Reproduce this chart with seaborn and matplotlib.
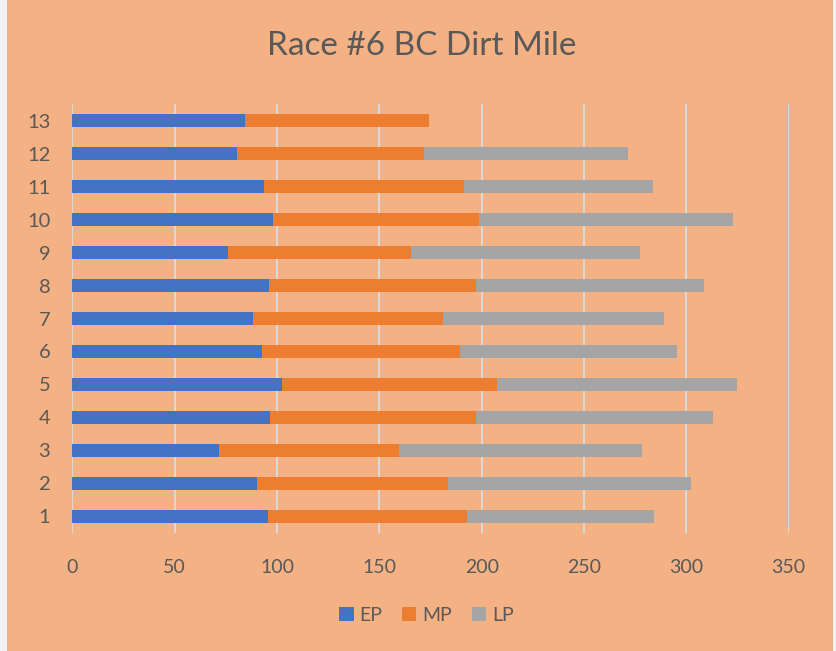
import numpy as np
import pandas as pd
import matplotlib
matplotlib.use("Agg")
import matplotlib.pyplot as plt
import seaborn as sns
from matplotlib.patches import Patch, Rectangle

# valores (Race #6 BC Dirt Mile)
horses = ["1", "2", "3", "4", "5", "6", "7", "8", "9", "10", "11", "12", "13"]
ep = [95.4, 90.2, 71.6, 96.5, 102.4, 92.6, 88.4, 96.0, 76.1, 98.0, 93.6, 80.2, 84.3]
mp = [97.4, 93.3, 88.0, 100.8, 104.9, 96.8, 92.7, 101.0, 89.5, 100.6, 97.7, 91.6, 90.1]
lp = [91.2, 118.8, 118.7, 115.7, 117.4, 106.0, 108.1, 111.6, 111.7, 124.2, 92.4, 99.5, 0.0]

BG = "#F4B183"
COLORS = {"EP": "#4472C4", "MP": "#ED7D31", "LP": "#A5A5A5"}
TXT = "#595959"

sns.set_theme(style="white")
plt.rcParams["font.family"] = ["Lato", "DejaVu Sans"]

df = pd.DataFrame({"horse": horses, "EP": ep, "MP": mp, "LP": lp})
df["cum_EP"] = df["EP"]
df["cum_MP"] = df["EP"] + df["MP"]
df["cum_LP"] = df["cum_MP"] + df["LP"]
order = horses[::-1]

fig = plt.figure(figsize=(8.36, 6.51), dpi=100, facecolor=BG)
# faixas claras nas bordas (moldura do gráfico original)
fig.patches.append(Rectangle((0, 0), 0.008, 1, transform=fig.transFigure,
                             facecolor="#F2F2F2", edgecolor="none"))
fig.patches.append(Rectangle((0.996, 0), 0.004, 1, transform=fig.transFigure,
                             facecolor="#F2F2F2", edgecolor="none"))

ax = fig.add_axes([0.0867, 0.1813, 0.8567, 0.6589])
ax.set_facecolor(BG)

# empilhado: desenha do total para o menor
for key in ["LP", "MP", "EP"]:
    sns.barplot(data=df, x=f"cum_{key}", y="horse", order=order, orient="h",
                color=COLORS[key], width=0.4, saturation=1, linewidth=0,
                edgecolor="none", ax=ax, zorder=3)

ax.set_xlim(0, 350)
ax.set_xticks(np.arange(0, 351, 50))
ax.grid(axis="x", color="#D9D9D9", lw=1.5, zorder=0)
ax.grid(axis="y", visible=False)
for s in ax.spines.values():
    s.set_visible(False)
ax.set_xlabel(""); ax.set_ylabel("")
ax.tick_params(axis="x", length=0, pad=19, labelsize=14, labelcolor=TXT)
ax.tick_params(axis="y", length=0, pad=16, labelsize=14.5, labelcolor=TXT)

fig.suptitle("Race #6 BC Dirt Mile", x=0.505, y=0.952, fontsize=24, color=TXT)

handles = [Patch(facecolor=COLORS[k], edgecolor="none", linewidth=0, label=k)
           for k in ["EP", "MP", "LP"]]
fig.legend(handles=handles, loc="center", bbox_to_anchor=(0.51, 0.055), ncol=3,
           frameon=False, fontsize=14, labelcolor=TXT, handlelength=0.75,
           handleheight=0.75, handletextpad=0.3, columnspacing=1.0)

fig.savefig("out.png", dpi=100, facecolor=BG)
plt.close(fig)
